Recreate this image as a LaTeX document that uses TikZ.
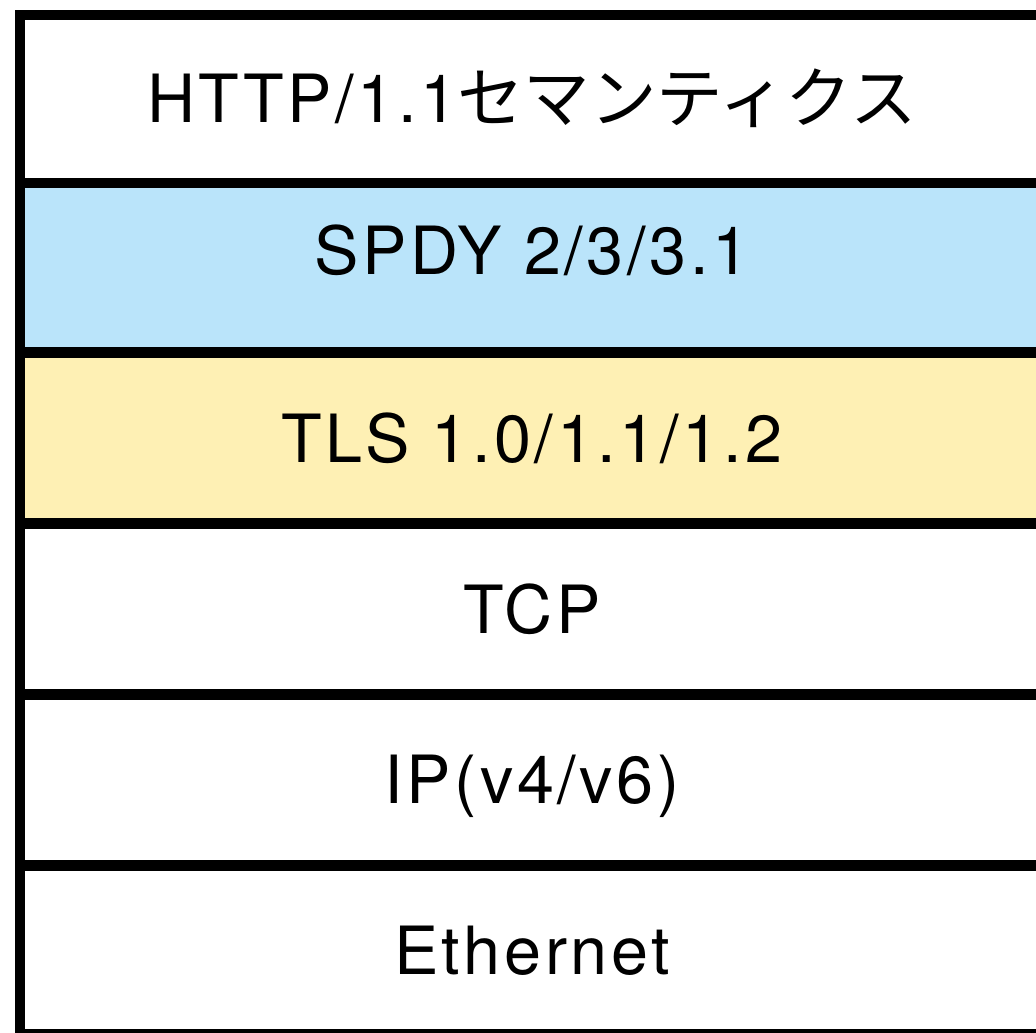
\documentclass[tikz,border=0pt]{standalone}
\usepackage{fontspec}
\setmainfont[LetterSpace=5.5]{TeX Gyre Heros}
\newfontfamily\jp{Noto Sans CJK JP}
\definecolor{spdyblue}{RGB}{186,228,250}
\definecolor{tlsyellow}{RGB}{254,240,180}
\begin{document}
\begin{tikzpicture}[x=1pt,y=-1pt,
  layer/.style={draw=black,line width=10.5pt,rectangle,inner sep=0pt,minimum width=1024pt,
    font=\fontsize{66.5}{72}\selectfont,text=black,text height=47.7pt,text depth=0pt}]
\useasboundingbox (0,0) rectangle (1036,1033);
\clip (0,0) rectangle (1036,1033);
\fill[white] (0,0) rectangle (1036,1033);
\node[layer,fill=white,minimum height=168pt] (http) at (532,99) {HTTP/1.1{\jp セマンティクス}};
\node[layer,fill=spdyblue,minimum height=169.5pt,text depth=34pt] (spdy) at (532,267.75) {SPDY 2/3/3.1};
\node[layer,fill=tlsyellow,minimum height=171pt] (tls) at (532,438.5) {TLS 1.0/1.1/1.2};
\node[layer,fill=white,minimum height=171.5pt] (tcp) at (532,609.25) {TCP};
\node[layer,fill=white,minimum height=171pt] (ip) at (532,780) {IP(v4/v6)};
\node[layer,fill=white,minimum height=168.5pt] (eth) at (532,950.25) {Ethernet};
\end{tikzpicture}
\end{document}
